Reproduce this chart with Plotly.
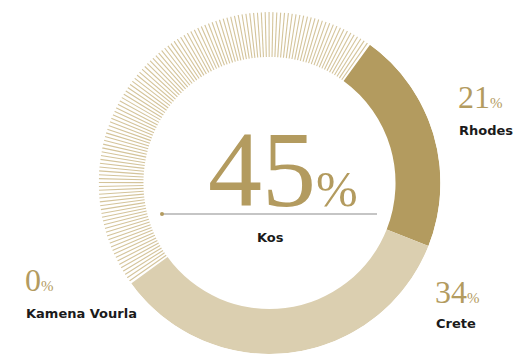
import numpy as np
import plotly.graph_objects as go

# Share of sites by location (%)
regions = ["Rhodes", "Crete", "Kamena Vourla", "Kos"]
shares = [21, 34, 0, 45]

GOLD = "#b39b5f"
SAND = "#dbcfb0"
HATCH = "#d4c49b"
INK = "#1b1b1b"
SERIF = "Liberation Serif"
SANS = "DejaVu Sans"

W, H = 516, 354
START_DEG = 36          # clockwise offset of the first slice from 12 o'clock
HOLE = 0.737            # inner radius as a fraction of the outer radius


def px(x, y):
    """Pixel position (from top-left) to paper coordinates."""
    return x / W, 1 - y / H


total = float(sum(shares))
spans = [s / total * 360 for s in shares]
starts = START_DEG + np.concatenate([[0], np.cumsum(spans)[:-1]])

fig = go.Figure()

# Solid slices
solid = [i for i, r in enumerate(regions) if r != "Kos"]
colors = {"Rhodes": GOLD, "Crete": SAND, "Kamena Vourla": SAND}
fig.add_trace(go.Barpolar(
    theta=[starts[i] + spans[i] / 2 for i in solid],
    width=[spans[i] for i in solid],
    r=[1 - HOLE] * len(solid),
    base=[HOLE] * len(solid),
    marker=dict(color=[colors[regions[i]] for i in solid], line=dict(width=0)),
    hoverinfo="skip",
    showlegend=False,
))

# Kos slice drawn as fine radial strokes
k = regions.index("Kos")
step = 1.3
n = int(spans[k] // step)
pad = (spans[k] - (n - 1) * step) / 2
angles = starts[k] + pad + step * np.arange(n)
th, rr = [], []
for a in angles:
    th += [a, a, None]
    rr += [HOLE, 1.0, None]
fig.add_trace(go.Scatterpolar(
    theta=th, r=rr, mode="lines",
    line=dict(color=HATCH, width=1.1),
    hoverinfo="skip", showlegend=False,
))

cx, cy, R = 269.5, 183, 171
fig.update_layout(
    width=W, height=H,
    margin=dict(l=0, r=0, t=0, b=0),
    paper_bgcolor="white",
    polar=dict(
        domain=dict(x=[(cx - R) / W, (cx + R) / W], y=[1 - (cy + R) / H, 1 - (cy - R) / H]),
        bgcolor="white",
        radialaxis=dict(range=[0, 1], visible=False),
        angularaxis=dict(rotation=90, direction="clockwise", visible=False),
        bargap=0,
    ),
)

# Centre figure for Kos
x, y = px(282.5, 169)
fig.add_annotation(
    x=x, y=y, xref="paper", yref="paper", xanchor="center", yanchor="middle",
    text=f"{shares[k]}<span style='font-size:50px'>%</span>",
    showarrow=False, font=dict(family=SERIF, size=108, color=GOLD),
)
x0, y0 = px(162, 214)
x1, _ = px(377, 214)
fig.add_shape(type="line", xref="paper", yref="paper", x0=x0, x1=x1, y0=y0, y1=y0,
              line=dict(color="#8c8c8c", width=1.2))
fig.add_shape(type="circle", xref="paper", yref="paper",
              x0=x0 - 2 / W, x1=x0 + 2 / W, y0=y0 - 2 / H, y1=y0 + 2 / H,
              fillcolor=GOLD, line=dict(width=0))
x, y = px(270, 237)
fig.add_annotation(x=x, y=y, xref="paper", yref="paper", xanchor="center", yanchor="middle",
                   text="Kos", showarrow=False,
                   font=dict(family=SANS, size=13, color=INK, weight="bold"))

# Outside labels: (value block left x, digit centre y, name centre y)
label_pos = {
    "Rhodes": (456, 97, 130),
    "Crete": (433, 292, 323),
    "Kamena Vourla": (23, 280, 313),
}
for name, (lx, vy, ny) in label_pos.items():
    i = regions.index(name)
    x, y = px(lx, vy)
    fig.add_annotation(
        x=x, y=y, xref="paper", yref="paper", xanchor="left", yanchor="middle",
        text=f"{shares[i]}<span style='font-size:15px'>%</span>",
        showarrow=False, font=dict(family=SERIF, size=32, color=GOLD),
    )
    x, y = px(lx + 1, ny)
    fig.add_annotation(
        x=x, y=y, xref="paper", yref="paper", xanchor="left", yanchor="middle",
        text=name, showarrow=False,
        font=dict(family=SANS, size=13, color=INK, weight="bold"),
    )

fig.write_html("out.html")
